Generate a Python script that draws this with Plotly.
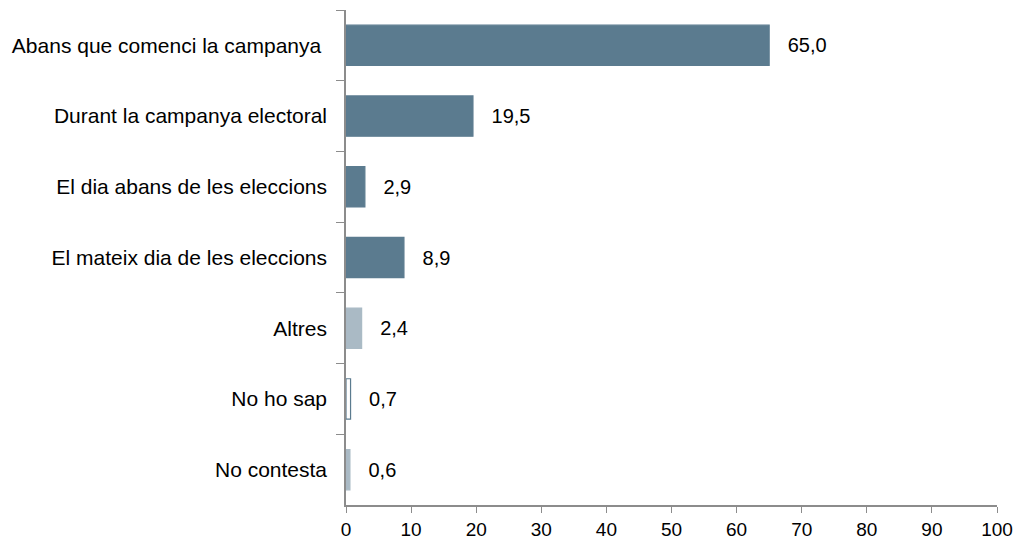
import plotly.graph_objects as go

categories = [
    "Abans que comenci la campanya ",
    "Durant la campanya electoral",
    "El dia abans de les eleccions",
    "El mateix dia de les eleccions",
    "Altres",
    "No ho sap",
    "No contesta",
]
values = [65.0, 19.5, 2.9, 8.9, 2.4, 0.7, 0.6]

dark = "#5b7b8f"
light = "#aabac5"
fills = [dark, dark, dark, dark, light, "white", light]
borders = [dark, dark, dark, dark, light, dark, light]

labels = ["\u2002 " + f"{v:.1f}".replace(".", ",") for v in values]

fig = go.Figure(
    go.Bar(
        x=values,
        y=categories,
        orientation="h",
        width=0.57,
        marker=dict(color=fills, line=dict(color=borders, width=1.2)),
        text=labels,
        textposition="outside",
        cliponaxis=False,
        textfont=dict(size=20, color="black", family="Liberation Sans, Arial"),
        hoverinfo="x+y",
    )
)

# page body adds an 8px offset, margins compensate
fig.update_layout(
    width=1027,
    height=539,
    margin=dict(l=338, r=38, t=2, b=42),
    plot_bgcolor="white",
    paper_bgcolor="white",
    showlegend=False,
    font=dict(family="Liberation Sans, Arial", size=18, color="black"),
)
fig.update_xaxes(
    range=[0, 100],
    dtick=10,
    showgrid=False,
    zeroline=False,
    showline=True,
    linecolor="#8c8c8c",
    linewidth=1.5,
    ticks="outside",
    ticklen=6,
    tickcolor="#8c8c8c",
    tickfont=dict(size=19),
    automargin=False,
)
fig.update_yaxes(
    autorange="reversed",
    showgrid=False,
    showline=True,
    linecolor="#8c8c8c",
    linewidth=1.5,
    ticks="outside",
    tickson="boundaries",
    ticklen=8,
    tickcolor="#8c8c8c",
    tickfont=dict(size=21),
    ticklabelstandoff=13,
    automargin=False,
)

fig.write_html("out.html")
